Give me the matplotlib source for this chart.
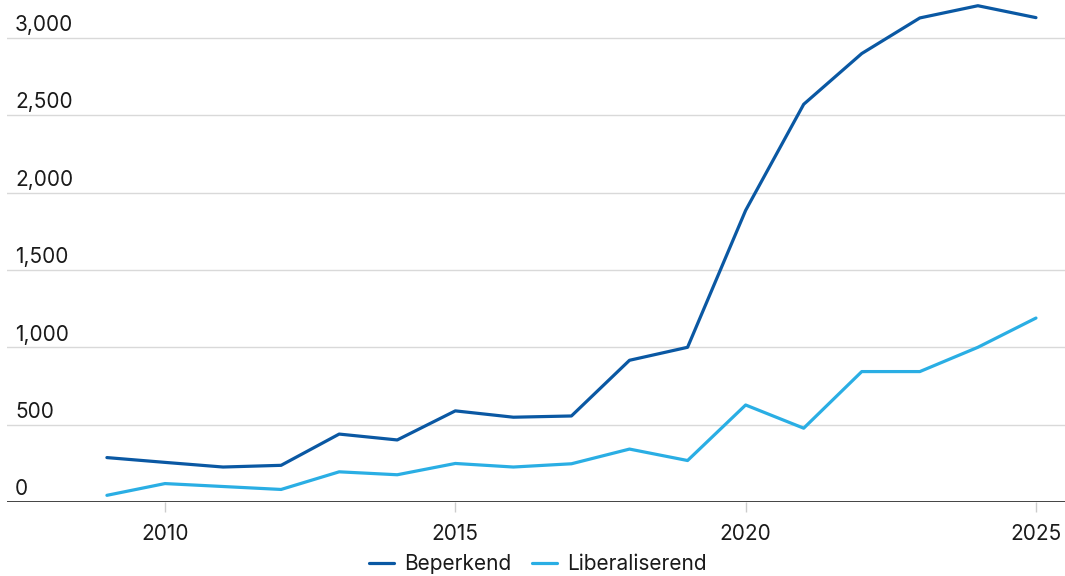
import matplotlib
matplotlib.use("Agg")
import matplotlib.pyplot as plt
import matplotlib.transforms as mtransforms

plt.rcParams['font.family'] = ['Inter', 'DejaVu Sans']

# Data
years = list(range(2009, 2026))
beperkend = [287, 256, 226, 237, 439, 401, 589, 548, 556, 916, 1000,
             1885, 2571, 2899, 3129, 3208, 3131]
liberaliserend = [43, 119, 100, 81, 195, 176, 249, 226, 247, 342, 268,
                  627, 477, 843, 843, 1000, 1189]
y_ticks = [0, 500, 1000, 1500, 2000, 2500, 3000]
x_ticks = [2010, 2015, 2020, 2025]

dark_blue = "#0a58a3"
light_blue = "#2aaee4"

fig = plt.figure(figsize=(10.65, 5.76), dpi=100)
ax = fig.add_axes([0.0066, 0.1285, 0.9934, 0.8715])

ax.plot(years, beperkend, color=dark_blue, lw=2.3, label="Beperkend",
        solid_capstyle="round", solid_joinstyle="round", zorder=3)
ax.plot(years, liberaliserend, color=light_blue, lw=2.3, label="Liberaliserend",
        solid_capstyle="round", solid_joinstyle="round", zorder=3)

ax.set_xlim(2007.28, 2025.5)
ax.set_ylim(0, 3245)

# gridlines
for v in y_ticks[1:]:
    ax.axhline(v, color="#d9d9d9", lw=1.0, zorder=1)
ax.axhline(0, color="#222222", lw=1.2, zorder=2)

for s in ax.spines.values():
    s.set_visible(False)

# y labels sit inside the plot, above each gridline
ax.set_yticks([])
trans = mtransforms.blended_transform_factory(ax.transAxes, ax.transData)
offset = mtransforms.offset_copy(trans, fig=fig, x=0, y=2, units="points")
for v in y_ticks:
    ax.text(0.0075, v, f"{v:,}", transform=offset, ha="left", va="bottom",
            fontsize=15, color="#1a1a1a")

ax.set_xticks(x_ticks)
ax.set_xticklabels([str(x) for x in x_ticks], fontsize=15, color="#1a1a1a")
ax.tick_params(axis="x", length=7, width=1, color="#cccccc", pad=9)

fig.legend(loc="center", bbox_to_anchor=(0.505, 0.02), ncol=2, frameon=False,
           fontsize=15, handlelength=1.2, handletextpad=0.5,
           columnspacing=1.0, labelcolor="#1a1a1a")

fig.savefig("out.png", dpi=100)
